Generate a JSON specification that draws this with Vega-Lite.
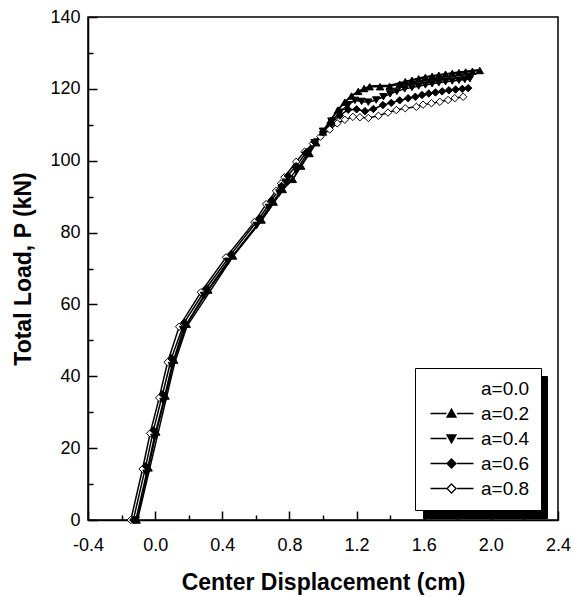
{
  "$schema": "https://vega.github.io/schema/vega-lite/v6.json",
  "width": 470,
  "height": 503,
  "autosize": "none",
  "padding": {"left": 88, "top": 17, "right": 16, "bottom": 77},
  "background": "white",
  "config": {
    "font": "Liberation Sans",
    "view": {"stroke": "black", "strokeWidth": 1.5},
    "axis": {
      "domainColor": "black", "domainWidth": 1.5,
      "tickColor": "black", "tickWidth": 1.5,
      "labelFont": "Liberation Sans", "labelFontSize": 18, "labelColor": "black",
      "titleFont": "Liberation Sans", "titleFontSize": 23, "titleFontWeight": "bold", "titleColor": "black",
      "grid": false, "labelOverlap": false, "labelFlush": false
    }
  },
  "data": {"values": [
    {"s":"a=0.8","x":-0.145,"p":0},{"s":"a=0.8","x":-0.075,"p":14.2},{"s":"a=0.8","x":-0.03,"p":24.1},{"s":"a=0.8","x":0.024,"p":34},{"s":"a=0.8","x":0.074,"p":43.9},{"s":"a=0.8","x":0.143,"p":53.8},{"s":"a=0.8","x":0.273,"p":63.4},{"s":"a=0.8","x":0.422,"p":73.1},{"s":"a=0.8","x":0.591,"p":82.9},{"s":"a=0.8","x":0.661,"p":87.9},{"s":"a=0.8","x":0.72,"p":91.6},{"s":"a=0.8","x":0.75,"p":93.7},{"s":"a=0.8","x":0.77,"p":95.4},{"s":"a=0.8","x":0.84,"p":99.7},{"s":"a=0.8","x":0.89,"p":102.5},{"s":"a=0.8","x":0.94,"p":104.8},{"s":"a=0.8","x":0.985,"p":106.7},{"s":"a=0.8","x":1.04,"p":108.7},{"s":"a=0.8","x":1.085,"p":110.4},{"s":"a=0.8","x":1.13,"p":111.4},{"s":"a=0.8","x":1.178,"p":112.2},{"s":"a=0.8","x":1.22,"p":112.1},{"s":"a=0.8","x":1.27,"p":111.9},{"s":"a=0.8","x":1.33,"p":112.5},{"s":"a=0.8","x":1.387,"p":113.4},{"s":"a=0.8","x":1.437,"p":114.1},{"s":"a=0.8","x":1.49,"p":114.6},{"s":"a=0.8","x":1.556,"p":115},{"s":"a=0.8","x":1.596,"p":115.6},{"s":"a=0.8","x":1.646,"p":116},{"s":"a=0.8","x":1.696,"p":116.4},{"s":"a=0.8","x":1.745,"p":116.9},{"s":"a=0.8","x":1.785,"p":117.4},{"s":"a=0.8","x":1.835,"p":117.8},
    {"s":"a=0.6","x":-0.13,"p":0},{"s":"a=0.6","x":-0.056,"p":15},{"s":"a=0.6","x":-0.01,"p":25},{"s":"a=0.6","x":0.044,"p":35},{"s":"a=0.6","x":0.097,"p":45},{"s":"a=0.6","x":0.174,"p":55},{"s":"a=0.6","x":0.305,"p":64.5},{"s":"a=0.6","x":0.453,"p":74},{"s":"a=0.6","x":0.621,"p":84},{"s":"a=0.6","x":0.694,"p":89},{"s":"a=0.6","x":0.753,"p":93},{"s":"a=0.6","x":0.79,"p":95.8},{"s":"a=0.6","x":0.84,"p":98.5},{"s":"a=0.6","x":0.9,"p":102.3},{"s":"a=0.6","x":0.95,"p":105.3},{"s":"a=0.6","x":1.0,"p":108},{"s":"a=0.6","x":1.05,"p":110.5},{"s":"a=0.6","x":1.1,"p":112.6},{"s":"a=0.6","x":1.15,"p":114.2},{"s":"a=0.6","x":1.2,"p":114.3},{"s":"a=0.6","x":1.25,"p":113.8},{"s":"a=0.6","x":1.3,"p":114.4},{"s":"a=0.6","x":1.357,"p":115.5},{"s":"a=0.6","x":1.407,"p":116.1},{"s":"a=0.6","x":1.457,"p":116.8},{"s":"a=0.6","x":1.507,"p":117.4},{"s":"a=0.6","x":1.55,"p":117.8},{"s":"a=0.6","x":1.59,"p":118.3},{"s":"a=0.6","x":1.63,"p":118.7},{"s":"a=0.6","x":1.67,"p":119},{"s":"a=0.6","x":1.71,"p":119.3},{"s":"a=0.6","x":1.75,"p":119.6},{"s":"a=0.6","x":1.79,"p":119.8},{"s":"a=0.6","x":1.83,"p":120},{"s":"a=0.6","x":1.865,"p":120.2},
    {"s":"a=0.4","x":-0.115,"p":0},{"s":"a=0.4","x":-0.051,"p":13},{"s":"a=0.4","x":-0.005,"p":23},{"s":"a=0.4","x":0.049,"p":33},{"s":"a=0.4","x":0.1,"p":43},{"s":"a=0.4","x":0.167,"p":53},{"s":"a=0.4","x":0.291,"p":62.5},{"s":"a=0.4","x":0.435,"p":72},{"s":"a=0.4","x":0.605,"p":82},{"s":"a=0.4","x":0.678,"p":87},{"s":"a=0.4","x":0.74,"p":91},{"s":"a=0.4","x":0.782,"p":94},{"s":"a=0.4","x":0.84,"p":97.3},{"s":"a=0.4","x":0.9,"p":101.5},{"s":"a=0.4","x":0.95,"p":105},{"s":"a=0.4","x":1.0,"p":108.2},{"s":"a=0.4","x":1.05,"p":111},{"s":"a=0.4","x":1.1,"p":113.5},{"s":"a=0.4","x":1.15,"p":115.6},{"s":"a=0.4","x":1.19,"p":116.8},{"s":"a=0.4","x":1.23,"p":116.5},{"s":"a=0.4","x":1.27,"p":116.3},{"s":"a=0.4","x":1.317,"p":116.9},{"s":"a=0.4","x":1.36,"p":117.8},{"s":"a=0.4","x":1.4,"p":118.6},{"s":"a=0.4","x":1.44,"p":119.3},{"s":"a=0.4","x":1.487,"p":120},{"s":"a=0.4","x":1.53,"p":120.4},{"s":"a=0.4","x":1.57,"p":120.8},{"s":"a=0.4","x":1.61,"p":121.1},{"s":"a=0.4","x":1.65,"p":121.4},{"s":"a=0.4","x":1.69,"p":121.7},{"s":"a=0.4","x":1.73,"p":122},{"s":"a=0.4","x":1.77,"p":122.2},{"s":"a=0.4","x":1.81,"p":122.4},{"s":"a=0.4","x":1.845,"p":122.6},{"s":"a=0.4","x":1.875,"p":122.8},
    {"s":"a=0.2","x":-0.11,"p":0},{"s":"a=0.2","x":-0.039,"p":14.5},{"s":"a=0.2","x":0.007,"p":24.5},{"s":"a=0.2","x":0.062,"p":34.5},{"s":"a=0.2","x":0.113,"p":44.5},{"s":"a=0.2","x":0.188,"p":54.5},{"s":"a=0.2","x":0.317,"p":64},{"s":"a=0.2","x":0.464,"p":73.5},{"s":"a=0.2","x":0.634,"p":83.5},{"s":"a=0.2","x":0.706,"p":88.5},{"s":"a=0.2","x":0.76,"p":92},{"s":"a=0.2","x":0.82,"p":94.8},{"s":"a=0.2","x":0.87,"p":98.5},{"s":"a=0.2","x":0.92,"p":102},{"s":"a=0.2","x":0.96,"p":105},{"s":"a=0.2","x":1.0,"p":108},{"s":"a=0.2","x":1.045,"p":111.2},{"s":"a=0.2","x":1.089,"p":114.1},{"s":"a=0.2","x":1.13,"p":116.3},{"s":"a=0.2","x":1.17,"p":118},{"s":"a=0.2","x":1.21,"p":119.3},{"s":"a=0.2","x":1.245,"p":120.1},{"s":"a=0.2","x":1.278,"p":120.6},{"s":"a=0.2","x":1.34,"p":120.6},{"s":"a=0.2","x":1.397,"p":120.7},{"s":"a=0.2","x":1.457,"p":121.3},{"s":"a=0.2","x":1.49,"p":122},{"s":"a=0.2","x":1.53,"p":122.4},{"s":"a=0.2","x":1.57,"p":122.8},{"s":"a=0.2","x":1.61,"p":123.2},{"s":"a=0.2","x":1.65,"p":123.5},{"s":"a=0.2","x":1.69,"p":123.8},{"s":"a=0.2","x":1.73,"p":124.1},{"s":"a=0.2","x":1.77,"p":124.3},{"s":"a=0.2","x":1.81,"p":124.5},{"s":"a=0.2","x":1.85,"p":124.7},{"s":"a=0.2","x":1.89,"p":124.9},{"s":"a=0.2","x":1.934,"p":125.1},
    {"s":"a=0.0","x":-0.105,"p":0},{"s":"a=0.0","x":0.067,"p":34},{"s":"a=0.0","x":0.118,"p":44},{"s":"a=0.0","x":0.19,"p":54},{"s":"a=0.0","x":0.466,"p":73.5},{"s":"a=0.0","x":0.636,"p":83.5},{"s":"a=0.0","x":0.762,"p":92},{"s":"a=0.0","x":0.822,"p":95},{"s":"a=0.0","x":0.9,"p":100.8},{"s":"a=0.0","x":1.0,"p":108.3},{"s":"a=0.0","x":1.089,"p":114.3},{"s":"a=0.0","x":1.17,"p":118.2},{"s":"a=0.0","x":1.278,"p":120.8},{"s":"a=0.0","x":1.4,"p":121},{"s":"a=0.0","x":1.5,"p":122.2},{"s":"a=0.0","x":1.6,"p":123.3},{"s":"a=0.0","x":1.7,"p":124},{"s":"a=0.0","x":1.8,"p":124.6},{"s":"a=0.0","x":1.93,"p":125.3}
  ]},
  "encoding": {
    "x": {
      "field": "x", "type": "quantitative",
      "scale": {"domain": [-0.4, 2.4], "nice": false, "zero": false},
      "axis": {
        "title": "Center Displacement (cm)",
        "values": [-0.4,-0.2,0,0.2,0.4,0.6,0.8,1.0,1.2,1.4,1.6,1.8,2.0,2.2,2.4],
        "labelExpr": "abs(datum.value/0.4 - round(datum.value/0.4)) < 0.01 ? replace(format(datum.value, '.1f'), '\u2212', '-') : ''",
        "tickSize": {"condition": {"test": "abs(datum.value/0.4 - round(datum.value/0.4)) < 0.01", "value": -9}, "value": -5},
        "labelPadding": 25,
        "titlePadding": 13
      }
    },
    "y": {
      "field": "p", "type": "quantitative",
      "scale": {"domain": [0, 140], "nice": false},
      "axis": {
        "title": "Total Load, P (kN)",
        "values": [0,10,20,30,40,50,60,70,80,90,100,110,120,130,140],
        "labelExpr": "datum.value % 20 === 0 ? format(datum.value, 'd') : ''",
        "tickSize": {"condition": {"test": "datum.value % 20 === 0", "value": -9}, "value": -5},
        "labelPadding": 17,
        "titlePadding": 14
      }
    }
  },
  "layer": [
    {
      "transform": [{"filter": "datum.p < 0"}],
      "mark": {"type": "point", "filled": true, "color": "black"},
      "encoding": {
        "shape": {
          "field": "s", "type": "nominal",
          "scale": {"domain": ["a=0.0","a=0.2","a=0.4","a=0.6","a=0.8"], "range": ["M-1,-1.88H18.4V1.88H-1Z","M-1,-1.88H18.4V1.88H-1Z","M-1,-1.88H18.4V1.88H-1Z","M-1,-1.88H18.4V1.88H-1Z","M-1,-1.88H18.4V1.88H-1Z"]},
          "legend": {
            "title": null, "orient": "none", "legendX": 335, "legendY": 359,
            "fillColor": "black", "strokeColor": "black",
            "padding": 11, "symbolSize": 100, "symbolOpacity": 0,
            "labelExpr": "''",
            "labelFontSize": 19, "labelFont": "Liberation Sans", "labelColor": "black", "labelOffset": 4, "rowPadding": 5
          }
        }
      }
    },
    {
      "mark": {"type": "line", "color": "black", "strokeWidth": 1.5},
      "encoding": {"detail": {"field": "s", "type": "nominal"}}
    },
    {
      "mark": {"type": "point", "stroke": "black", "strokeWidth": 1, "opacity": 1, "size": 55},
      "encoding": {
        "shape": {
          "field": "s", "type": "nominal",
          "scale": {"domain": ["a=0.0","a=0.2","a=0.4","a=0.6","a=0.8"], "range": ["M0,0","triangle-up","triangle-down","diamond","diamond"]},
          "legend": null
        },
        "fill": {
          "field": "s", "type": "nominal",
          "scale": {"domain": ["a=0.0","a=0.2","a=0.4","a=0.6","a=0.8"], "range": ["black","black","black","black","white"]},
          "legend": null
        }
      }
    },
    {
      "transform": [{"filter": "datum.p < 0"}],
      "mark": {"type": "point", "strokeWidth": 1.3, "opacity": 1},
      "encoding": {
        "shape": {
          "field": "s", "type": "nominal",
          "scale": {"domain": ["a=0.0","a=0.2","a=0.4","a=0.6","a=0.8"], "range": ["M0,0", "M-1,0H2.2M4.3,0H7.6M3.2,-0.9L4.1,0.7L2.3,0.7Z", "M-1,0H2.2M4.3,0H7.6M3.2,0.9L4.1,-0.7L2.3,-0.7Z", "M-1,0H2.2M4.3,0H7.6M3.2,-0.9L4.1,0L3.2,0.9L2.3,0Z", "M-1,0H2.2M4.3,0H7.6M3.2,-0.9L4.1,0L3.2,0.9L2.3,0Z"]},
          "legend": {
            "title": null, "orient": "none", "legendX": 327, "legendY": 351,
            "fillColor": "white", "strokeColor": "black",
            "padding": 11, "symbolSize": 100, "symbolOpacity": 1,
            "symbolStrokeWidth": 1.3,
            "labelFontSize": 19, "labelFont": "Liberation Sans", "labelColor": "black", "labelOffset": 36, "rowPadding": 5
          }
        },
        "fill": {
          "field": "s", "type": "nominal",
          "scale": {"domain": ["a=0.0","a=0.2","a=0.4","a=0.6","a=0.8"], "range": ["black","black","black","black","white"]}
        },
        "stroke": {
          "field": "s", "type": "nominal",
          "scale": {"domain": ["a=0.0","a=0.2","a=0.4","a=0.6","a=0.8"], "range": ["black","black","black","black","black"]}
        }
      }
    }
  ],
  "resolve": {"scale": {"shape": "independent", "fill": "independent", "stroke": "independent"}, "legend": {"shape": "independent", "fill": "independent", "stroke": "independent"}}
}
